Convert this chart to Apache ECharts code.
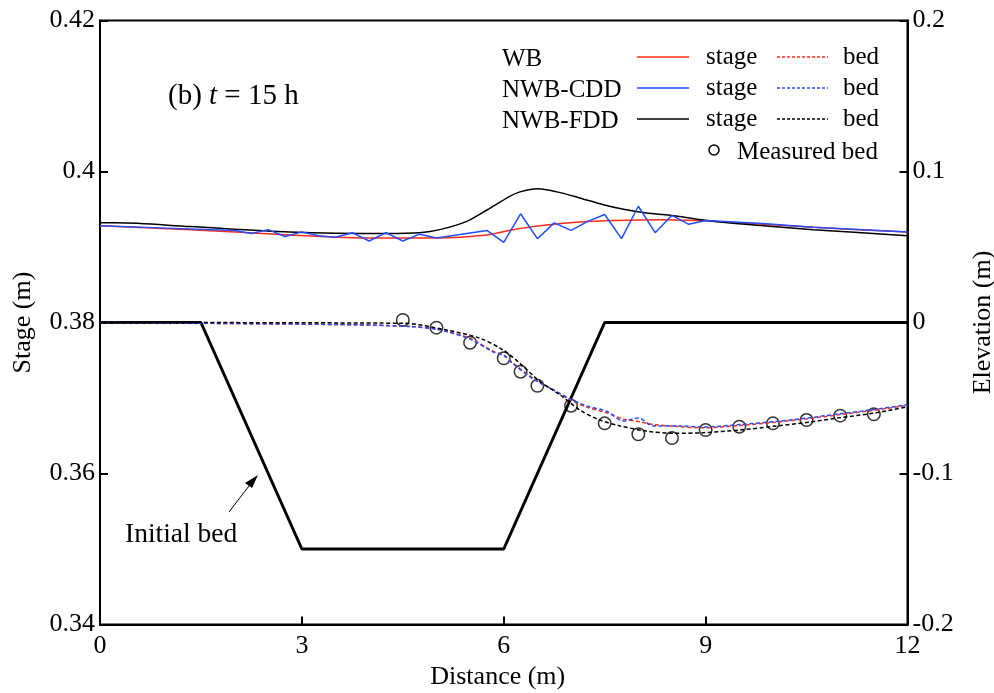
<!DOCTYPE html>
<html>
<head>
<meta charset="utf-8">
<script src="https://cdn.jsdelivr.net/npm/echarts@6/dist/echarts.min.js"></script>
<style>
  html, body { margin: 0; padding: 0; background: #fff; }
  #chart { width: 994px; height: 693px; }
</style>
</head>
<body>
<div id="chart"></div>
<script>
// Distance ticks and axis labels
const xTicks = [0, 3, 6, 9, 12];
const stageTicks = ['0.34', '0.36', '0.38', '0.4', '0.42'];
const elevTicks = ['-0.2', '-0.1', '0', '0.1', '0.2'];

// Water stage (m), left axis
const distStageWB = [0, 1.34, 2.82, 4.06, 5.0, 5.75, 6.14, 6.64, 7.13, 7.63, 8.37, 9.11, 10.6, 12];
const stageWB = [0.3928, 0.3923, 0.3916, 0.3912, 0.3912, 0.3916, 0.3923, 0.3929, 0.3933, 0.3935, 0.3936, 0.3934, 0.3926, 0.3920];

const distStageCDD = [0, 1.0, 2.0, 2.25, 2.5, 2.75, 3.0, 3.25, 3.5, 3.75, 4.0, 4.25, 4.5, 4.75, 5.0, 5.75, 6.0, 6.25, 6.5, 6.75, 7.0, 7.25, 7.5, 7.75, 8.0, 8.25, 8.5, 8.75, 9.0, 9.85, 10.6, 12];
const stageCDD = [0.3928, 0.3925, 0.3922, 0.3918, 0.3923, 0.3914, 0.3920, 0.3915, 0.3913, 0.3919, 0.3908, 0.3919, 0.3908, 0.3917, 0.3912, 0.3922, 0.3906, 0.3944, 0.3911, 0.3932, 0.3922, 0.3934, 0.3943, 0.3911, 0.3954, 0.3919, 0.3942, 0.3930, 0.3935, 0.3931, 0.3926, 0.3920];

const distStageFDD = [0, 0.25, 1.34, 2.82, 4.26, 4.75, 5.05, 5.45, 5.75, 6.09, 6.24, 6.51, 6.79, 7.13, 7.48, 7.78, 8.12, 8.47, 9.11, 9.86, 10.6, 12];
const stageFDD = [0.3932, 0.3932, 0.3927, 0.3920, 0.3918, 0.3919, 0.3923, 0.3934, 0.3949, 0.3967, 0.3973, 0.3977, 0.3973, 0.3965, 0.3956, 0.3950, 0.3945, 0.3942, 0.3934, 0.3928, 0.3923, 0.3915];

// Bed elevation (m), right axis
const distBed = [0, 3.8, 4.66, 5.0, 5.15, 5.5, 5.84, 6.0, 6.14, 6.44, 6.74, 6.98, 7.23, 7.53, 7.78, 8.0, 8.22, 8.62, 8.96, 9.51, 10.05, 10.52, 11.0, 11.49, 12];
const bedWB = [0, -0.0015, -0.0028, -0.0043, -0.0058, -0.0105, -0.0190, -0.0215, -0.0270, -0.0370, -0.0447, -0.0510, -0.0560, -0.0598, -0.0640, -0.0655, -0.0675, -0.0690, -0.0697, -0.0682, -0.0660, -0.0637, -0.0610, -0.0582, -0.0548];
const bedCDD = [0, -0.0015, -0.0028, -0.0045, -0.0060, -0.0110, -0.0195, -0.0218, -0.0275, -0.0375, -0.0447, -0.0505, -0.0552, -0.0588, -0.0652, -0.0632, -0.0685, -0.0685, -0.0692, -0.0676, -0.0655, -0.0632, -0.0604, -0.0577, -0.0544];

const distBedFDD = [0, 4.5, 5.15, 5.65, 5.99, 6.24, 6.54, 6.84, 7.13, 7.43, 7.73, 8.12, 8.52, 8.96, 9.51, 10.05, 10.52, 11.0, 11.49, 12];
const bedFDD = [0, -0.0005, -0.005, -0.0105, -0.0182, -0.027, -0.0392, -0.048, -0.058, -0.0646, -0.0685, -0.0719, -0.0734, -0.073, -0.0712, -0.0685, -0.0661, -0.063, -0.0601, -0.0558];

const distMeasured = [4.5, 5, 5.5, 6, 6.25, 6.5, 7, 7.5, 8, 8.5, 9, 9.5, 10, 10.5, 11, 11.5];
const bedMeasured = [0.0017, -0.0034, -0.0134, -0.0237, -0.0326, -0.0419, -0.0551, -0.0668, -0.074, -0.0765, -0.0712, -0.069, -0.0668, -0.0646, -0.0617, -0.0608];

const distInitial = [0, 1.5, 3, 6, 7.5, 12];
const bedInitial = [0, 0, -0.15, -0.15, 0, 0];

const FONT = "'Liberation Serif', 'Times New Roman', serif";
const RED = '#ff2a1a';
const BLUE = '#1f4fff';
const BLACK = '#000000';

const zip = (xs, ys) => xs.map((x, i) => [x, ys[i]]);

const chart = echarts.init(document.getElementById('chart'), null, { renderer: 'canvas' });

const axisCommon = {
  axisLine: { show: true, onZero: false, lineStyle: { color: '#000', width: 2 } },
  axisTick: { show: true, inside: true, length: 8, lineStyle: { color: '#000', width: 2 } },
  splitLine: { show: false },
  axisLabel: { color: '#000', fontFamily: FONT, fontSize: 26 },
  nameTextStyle: { color: '#000', fontFamily: FONT, fontSize: 26 }
};

function lineSeries(name, xs, ys, color, yIdx, dashed, width, smooth) {
  return {
    name: name,
    type: 'line',
    yAxisIndex: yIdx,
    data: zip(xs, ys),
    showSymbol: false,
    smooth: smooth,
    lineStyle: { color: color, width: width, type: dashed ? [4, 2.5] : 'solid' },
    itemStyle: { color: color },
    animation: false,
    silent: true
  };
}

const legendRows = [
  { label: 'WB', color: RED, y: 57 },
  { label: 'NWB-CDD', color: BLUE, y: 88 },
  { label: 'NWB-FDD', color: BLACK, y: 119 }
];

const LEG_FONT = "25px " + FONT;
const graphics = [];
function addText(x, y, text, font) {
  graphics.push({
    type: 'text', x: x, y: y,
    style: { text: text, font: font, fill: '#000', textVerticalAlign: 'middle', verticalAlign: 'middle' }
  });
}
legendRows.forEach(r => {
  addText(502, r.y + 2, r.label, LEG_FONT);
  graphics.push({ type: 'line', shape: { x1: 637, y1: r.y, x2: 689, y2: r.y }, style: { stroke: r.color, lineWidth: 1.5 } });
  addText(706, r.y, 'stage', LEG_FONT);
  graphics.push({ type: 'line', shape: { x1: 777, y1: r.y, x2: 828, y2: r.y }, style: { stroke: r.color, lineWidth: 1.5, lineDash: [3, 2] } });
  addText(843, r.y, 'bed', LEG_FONT);
});
graphics.push({ type: 'circle', shape: { cx: 714, cy: 150, r: 5 }, style: { fill: 'none', stroke: '#000', lineWidth: 1.5 } });
addText(737, 152, 'Measured bed', LEG_FONT);

// Panel label
graphics.push({
  type: 'text', x: 168, y: 96,
  style: {
    text: '{n|(b) }{i|t}{n| = 15 h}',
    textVerticalAlign: 'middle', verticalAlign: 'middle',
    rich: {
      n: { fontFamily: FONT, fontSize: 29, fill: '#000' },
      i: { fontFamily: FONT, fontSize: 29, fontStyle: 'italic', fill: '#000' }
    }
  }
});

// Initial bed annotation with arrow
addText(125, 535, 'Initial bed', "27.5px " + FONT);
graphics.push({ type: 'line', shape: { x1: 229, y1: 512, x2: 252, y2: 482 }, style: { stroke: '#000', lineWidth: 1 } });
graphics.push({ type: 'polygon', shape: { points: [[258, 475], [245, 483], [252, 488]] }, style: { fill: '#000' } });

chart.setOption({
  animation: false,
  backgroundColor: '#fff',
  grid: {
    left: 100, right: 86.5, top: 20.5, bottom: 68.5,
    containLabel: false, outerBoundsMode: 'none',
    show: true, borderColor: '#000', borderWidth: 2
  },
  xAxis: Object.assign({}, axisCommon, {
    type: 'value', min: 0, max: 12, interval: 3,
    name: 'Distance (m)', nameLocation: 'middle', nameGap: 36,
    nameTextStyle: Object.assign({}, axisCommon.nameTextStyle, { padding: [0, 12, 0, 0] }),
    axisLabel: Object.assign({}, axisCommon.axisLabel, {
      margin: 9,
      formatter: v => (xTicks.indexOf(v) >= 0 ? String(v) : '')
    })
  }),
  yAxis: [
    Object.assign({}, axisCommon, {
      type: 'value', min: 0.34, max: 0.42, interval: 0.02, position: 'left',
      name: 'Stage (m)', nameLocation: 'middle', nameGap: 64,
      axisLabel: Object.assign({}, axisCommon.axisLabel, {
        margin: 5,
        formatter: v => {
          const s = String(+v.toFixed(2));
          return stageTicks.indexOf(s) >= 0 ? s : '';
        }
      })
    }),
    Object.assign({}, axisCommon, {
      type: 'value', min: -0.2, max: 0.2, interval: 0.1, position: 'right',
      name: 'Elevation (m)', nameLocation: 'middle', nameGap: 63, nameRotate: 90,
      axisLabel: Object.assign({}, axisCommon.axisLabel, {
        margin: 5,
        formatter: v => {
          const s = String(+v.toFixed(1));
          return elevTicks.indexOf(s) >= 0 ? s : '';
        }
      })
    })
  ],
  series: [
    lineSeries('Initial bed', distInitial, bedInitial, BLACK, 1, false, 3, false),
    lineSeries('WB stage', distStageWB, stageWB, RED, 0, false, 1.5, 0.3),
    lineSeries('NWB-FDD stage', distStageFDD, stageFDD, BLACK, 0, false, 1.5, 0.3),
    lineSeries('NWB-CDD stage', distStageCDD, stageCDD, BLUE, 0, false, 1.5, false),
    lineSeries('WB bed', distBed, bedWB, RED, 1, true, 1.5, 0.3),
    lineSeries('NWB-CDD bed', distBed, bedCDD, BLUE, 1, true, 1.5, 0.3),
    lineSeries('NWB-FDD bed', distBedFDD, bedFDD, BLACK, 1, true, 1.5, 0.3),
    {
      name: 'Measured bed',
      type: 'scatter',
      yAxisIndex: 1,
      data: zip(distMeasured, bedMeasured),
      symbol: 'circle',
      symbolSize: 12.5,
      itemStyle: { color: 'rgba(0,0,0,0)', borderColor: '#000', borderWidth: 1.5 },
      silent: true
    }
  ],
  graphic: graphics
});
</script>
</body>
</html>
